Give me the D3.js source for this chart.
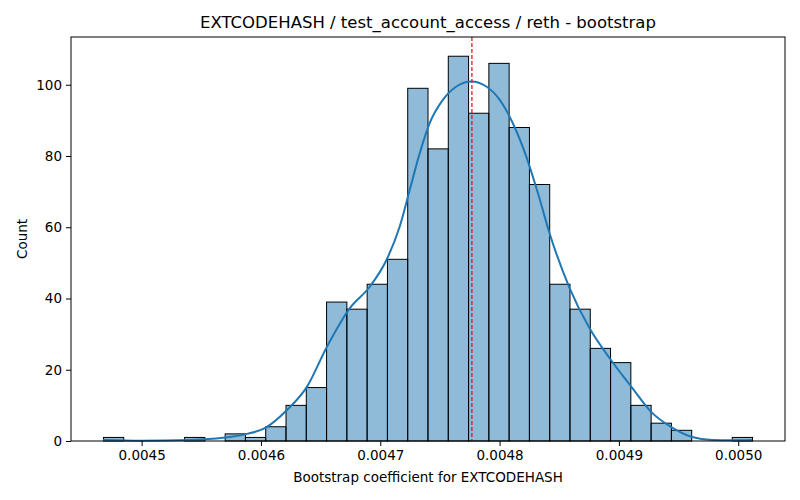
<!DOCTYPE html>
<html>
<head>
<meta charset="utf-8">
<script src="https://cdn.jsdelivr.net/npm/d3@7"></script>
<style>
  html, body { margin: 0; padding: 0; background: #fff; overflow: hidden; }
  svg { display: block; }
  text { font-family: "DejaVu Sans", sans-serif; fill: #000; }
</style>
</head>
<body>
<div id="chart"></div>
<script>
// histogram bins (bootstrap coefficient), 32 bins
const binStart = 0.004468;
const binWidth = 0.000017;
const binCounts = [1, 0, 0, 0, 1, 0, 2, 1, 4, 10, 15, 39, 37, 44, 51, 99,
  82, 108, 92, 106, 88, 72, 44, 37, 26, 22, 10, 5, 3, 0, 0, 1];

// kde curve (count scale)
const kdeX = [0.0044678, 0.0044987, 0.0045406, 0.0045682, 0.0045883, 0.0046033, 0.0046218,
  0.0046385, 0.0046552, 0.0046745, 0.0046912, 0.0047052, 0.0047163, 0.0047247, 0.0047331,
  0.0047414, 0.0047526, 0.0047638, 0.0047763, 0.0047889, 0.0048000, 0.0048111, 0.0048223,
  0.0048321, 0.0048418, 0.0048586, 0.0048753, 0.0048921, 0.0049105, 0.0049272, 0.0049439,
  0.0049615, 0.0049782, 0.0049950, 0.0050117];
const kdeY = [0.3, 0.1, 0.3, 0.9, 2.0, 3.6, 8.7,
  15.2, 26.4, 37.3, 43.3, 50.8, 60.2, 70.5, 80.8,
  89.2, 95.8, 99.5, 100.9, 99.5, 95.8, 89.2, 79.9,
  69.6, 58.4, 43.0, 31.7, 23.3, 15.2, 8.1, 3.9,
  1.1, 0.3, 0.2, 0.3];

const meanValue = 0.0047768;
const xTicks = [0.0045, 0.0046, 0.0047, 0.0048, 0.0049, 0.0050];
const yTicks = [0, 20, 40, 60, 80, 100];

const width = 800, height = 500;
const margin = { top: 37, right: 15, bottom: 59, left: 71 };
const innerWidth = width - margin.left - margin.right;
const innerHeight = height - margin.top - margin.bottom;

const bins = binCounts.map((c, i) => ({
  x0: binStart + i * binWidth,
  x1: binStart + (i + 1) * binWidth,
  count: c
}));

// matplotlib style 5% margins
const xMin = binStart, xMax = binStart + binCounts.length * binWidth;
const xPad = (xMax - xMin) * 0.05;
const yMax = d3.max(binCounts) * 1.05;

const xScale = d3.scaleLinear()
  .domain([xMin - xPad, xMax + xPad])
  .range([0, innerWidth]);

const yScale = d3.scaleLinear()
  .domain([0, yMax])
  .range([innerHeight, 0]);

const svg = d3.select("#chart")
  .append("svg")
  .attr("width", width)
  .attr("height", height);

const g = svg.append("g")
  .attr("transform", `translate(${margin.left}, ${margin.top})`);

// bars
g.selectAll("rect.bar")
  .data(bins.filter(d => d.count > 0))
  .join("rect")
  .attr("class", "bar")
  .attr("x", d => xScale(d.x0))
  .attr("y", d => yScale(d.count))
  .attr("width", d => xScale(d.x1) - xScale(d.x0))
  .attr("height", d => yScale(0) - yScale(d.count))
  .attr("fill", "rgba(31, 119, 180, 0.5)")
  .attr("stroke", "#000")
  .attr("stroke-width", 1);

// kde line
const kdeLine = d3.line()
  .x(d => xScale(d[0]))
  .y(d => yScale(d[1]))
  .curve(d3.curveMonotoneX);

g.append("path")
  .datum(kdeX.map((x, i) => [x, kdeY[i]]))
  .attr("d", kdeLine)
  .attr("fill", "none")
  .attr("stroke", "#1f77b4")
  .attr("stroke-width", 2);

// mean line
g.append("line")
  .attr("x1", xScale(meanValue))
  .attr("x2", xScale(meanValue))
  .attr("y1", 0)
  .attr("y2", innerHeight)
  .attr("stroke", "red")
  .attr("stroke-width", 1.2)
  .attr("stroke-dasharray", "4,2");

// axes
const xAxis = d3.axisBottom(xScale)
  .tickValues(xTicks)
  .tickFormat(d3.format(".4f"))
  .tickSizeOuter(0)
  .tickSize(5)
  .tickPadding(4);

const yAxis = d3.axisLeft(yScale)
  .tickValues(yTicks)
  .tickSizeOuter(0)
  .tickSize(5)
  .tickPadding(4);

const xg = g.append("g")
  .attr("transform", `translate(0, ${innerHeight})`)
  .call(xAxis);
const yg = g.append("g").call(yAxis);

[xg, yg].forEach(a => {
  a.select(".domain").remove();
  a.selectAll(".tick line").attr("stroke", "#000").attr("stroke-width", 1);
  a.selectAll(".tick text").style("font-size", "13.5px").attr("fill", "#000");
});

// frame
g.append("rect")
  .attr("x", 0)
  .attr("y", 0)
  .attr("width", innerWidth)
  .attr("height", innerHeight)
  .attr("fill", "none")
  .attr("stroke", "#000")
  .attr("stroke-width", 1);

// title and labels
svg.append("text")
  .attr("x", margin.left + innerWidth / 2)
  .attr("y", 28)
  .attr("text-anchor", "middle")
  .style("font-size", "16.5px")
  .text("EXTCODEHASH / test_account_access / reth - bootstrap");

svg.append("text")
  .attr("x", margin.left + innerWidth / 2)
  .attr("y", 482)
  .attr("text-anchor", "middle")
  .style("font-size", "13.5px")
  .text("Bootstrap coefficient for EXTCODEHASH");

svg.append("text")
  .attr("transform", "rotate(-90)")
  .attr("x", -(margin.top + innerHeight / 2))
  .attr("y", 27)
  .attr("text-anchor", "middle")
  .style("font-size", "13.5px")
  .text("Count");
</script>
</body>
</html>
